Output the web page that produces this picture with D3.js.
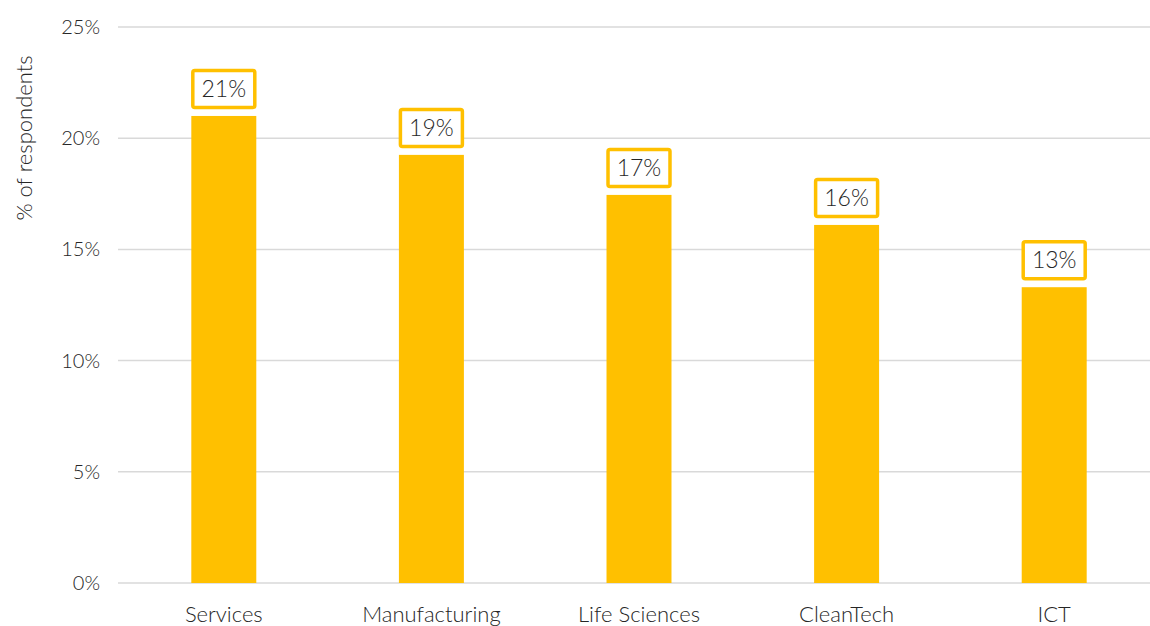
<!DOCTYPE html>
<html><head><meta charset="utf-8">
<script src="https://cdn.jsdelivr.net/npm/d3@7"></script>
<style>body{margin:0;background:#fff}svg{display:block}text{font-family:Lato,"Open Sans",sans-serif;font-weight:300;fill:#262626}</style>
</head><body><svg id="c" width="1150" height="626"></svg>
<script>
const categories = ["Services","Manufacturing","Life Sciences","CleanTech","ICT"];
const values = [21.0, 19.25, 17.45, 16.1, 13.3];
const labels = ["21%","19%","17%","16%","13%"];
const yTicks = [0,5,10,15,20,25];

const svg = d3.select("#c");
const x = d3.scaleBand().domain(categories).range([120,1158]).paddingInner(0.687).paddingOuter(0.3435);
const y = d3.scaleLinear().domain([0,25]).range([583,27]);

svg.append("g").selectAll("line").data(yTicks).join("line")
  .attr("x1",118).attr("x2",1150).attr("y1",d=>y(d)).attr("y2",d=>y(d))
  .attr("stroke","#d9d9d9").attr("stroke-width",1.5);

svg.append("g").selectAll("text").data(yTicks).join("text")
  .attr("x",100).attr("y",d=>y(d)).attr("dy","0.35em").attr("text-anchor","end")
  .attr("font-size",20).text(d=>d+"%");

svg.append("text").attr("transform","translate(32,138) rotate(-90)")
  .attr("text-anchor","middle").attr("font-size",22).text("% of respondents");

svg.append("g").selectAll("rect").data(values).join("rect")
  .attr("x",(d,i)=>x(categories[i])).attr("width",x.bandwidth())
  .attr("y",d=>y(d)).attr("height",d=>y(0)-y(d)).attr("fill","#FFC000");

const lg = svg.append("g").selectAll("g").data(values).join("g");
lg.append("rect")
  .attr("x",(d,i)=>x(categories[i])+1.5).attr("width",x.bandwidth()-3)
  .attr("y",d=>y(d)-45.5).attr("height",37).attr("rx",2)
  .attr("fill","#fff").attr("stroke","#FFC000").attr("stroke-width",3.5);
lg.append("text")
  .attr("x",(d,i)=>x(categories[i])+x.bandwidth()/2).attr("y",d=>y(d)-27)
  .attr("dy","0.35em").attr("text-anchor","middle").attr("font-size",23)
  .text((d,i)=>labels[i]);

svg.append("g").selectAll("text").data(categories).join("text")
  .attr("x",d=>x(d)+x.bandwidth()/2).attr("y",622).attr("text-anchor","middle")
  .attr("font-size",22).text(d=>d);
</script></body></html>
